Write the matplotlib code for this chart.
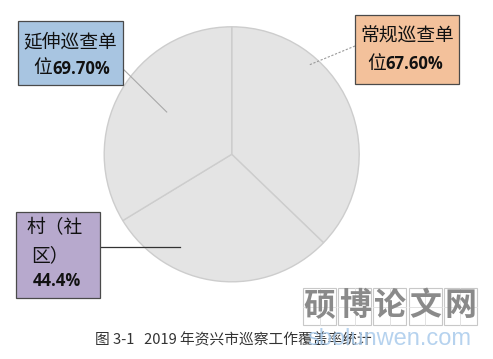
import matplotlib
matplotlib.use("Agg")
import matplotlib.pyplot as plt
from matplotlib.patches import Rectangle

# ---- data ----
categories = ["常规巡查单位", "村（社区）", "延伸巡查单位"]
label_pcts = ["67.60%", "44.4%", "69.70%"]
# wedge sizes as drawn in the picture (share of the circle, %)
wedge_sizes = [37.2, 29.1, 33.7]
box_colors = ["#f3c19b", "#b7a9cd", "#a8c5e1"]
caption = "图 3-1   2019 年资兴市巡察工作覆盖率统计"
watermark_chars = ["硕", "博", "论", "文", "网"]
watermark_url = "sbolunwen.com"

CJK = ["Noto Sans CJK SC", "DejaVu Sans"]
plt.rcParams['font.family'] = CJK

W, H = 493, 359
fig = plt.figure(figsize=(W / 100, H / 100), dpi=100)
ax = fig.add_axes([0, 0, 1, 1])

def Y(py):
    return H - py

# ---- pie ----
ax.pie(wedge_sizes, startangle=90, counterclock=False,
       center=(231.7, Y(154.3)), radius=127.5,
       colors=["#e4e4e4"] * 3,
       wedgeprops=dict(edgecolor="#cdcdcd", linewidth=1.0))
ax.set_xlim(0, W)
ax.set_ylim(0, H)
ax.set_aspect("auto")
ax.axis("off")

# ---- leader lines ----
ax.plot([115, 166.7], [Y(61), Y(112)], color="#a8a8a8", lw=0.8)
ax.plot([355, 309], [Y(46), Y(65)], color="#9a9a9a", lw=0.8, ls=(0, (2, 1.5)))
ax.plot([100, 180], [Y(247), Y(247)], color="#333333", lw=0.9)

# ---- label boxes ----
def box(x0, y0, x1, y1, color):
    ax.add_patch(Rectangle((x0, Y(y1)), x1 - x0, y1 - y0, facecolor=color,
                           edgecolor="#4a4a4a", linewidth=0.9, zorder=5))

fs = 13.5
nfs = 12
txt = dict(va="center", fontsize=fs, color="#111111", zorder=6)
num = dict(va="center", fontsize=nfs, fontweight="bold", family="Open Sans",
           color="#111111", zorder=6, ha="left")

# 延伸巡查单位
box(18, 21, 123, 85, box_colors[2])
ax.text(70.5, Y(42), categories[2][:5], ha="center", **txt)
ax.text(42.5, Y(68), categories[2][5:], ha="center", **txt)
ax.text(52, Y(69), label_pcts[2], **num)

# 常规巡查单位
box(355, 15, 459, 84, box_colors[0])
ax.text(407.5, Y(36), categories[0][:5], ha="center", **txt)
ax.text(377, Y(63), categories[0][5:], ha="center", **txt)
ax.text(385.5, Y(64), label_pcts[0], **num)

# 村（社区）
box(16, 212, 100, 298, box_colors[1])
ax.text(55, Y(228), categories[1][:3], ha="center", **txt)
ax.text(50, Y(256), categories[1][3:], ha="center", **txt)
ax.text(33, Y(281), label_pcts[1], **num)

# ---- watermark ----
for i, ch in enumerate(watermark_chars):
    x0 = 303 + i * 35.2
    ax.add_patch(Rectangle((x0, Y(325)), 33, 37, facecolor="white",
                           edgecolor="#c8c8c8", linewidth=0.8, zorder=7))
    ax.plot([x0 + 16.5, x0 + 16.5], [Y(325), Y(288)], color="#dddddd", lw=0.6, zorder=7)
    ax.plot([x0, x0 + 33], [Y(306.5), Y(306.5)], color="#dddddd", lw=0.6, zorder=7)
    ax.text(x0 + 16.5, Y(306.5), ch, ha="center", va="center", fontsize=23,
            fontweight="bold", color="#8a8a8a", zorder=8)

# ---- caption ----
ax.text(95, Y(340), caption, ha="left", va="center", fontsize=10.6,
        color="#333333", zorder=9)
ax.text(389, Y(339), watermark_url, ha="center", va="center", fontsize=17,
        family="Liberation Sans", color="#a9cbec", alpha=0.85, zorder=10)

fig.savefig("out.png", dpi=100)
